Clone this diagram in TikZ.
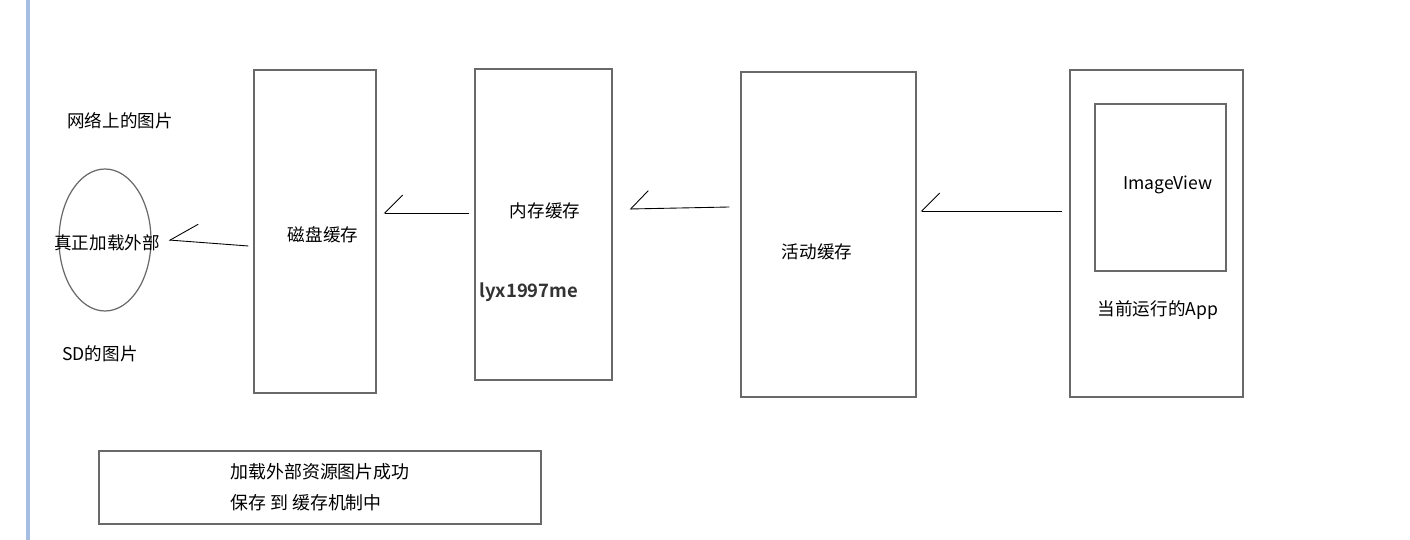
\documentclass[tikz,border=0pt]{standalone}
\usepackage{fontspec}
\setmainfont{Noto Sans CJK SC}[BoldFont={Noto Sans CJK SC Bold}]
\usetikzlibrary{arrows.meta,shapes.geometric}
\definecolor{framegray}{RGB}{105,105,105}
\definecolor{winblue}{RGB}{165,190,225}
\tikzset{
  box/.style={draw=framegray,line width=0.7pt,inner sep=0pt},
  lbl/.style={font=\fontsize{10}{12}\selectfont,inner sep=0pt},
  back/.style={line width=0.5pt,
    -{Straight Barb[harpoon,swap,length=0.36cm,width=0.72cm,line width=0.5pt]}},
}
\begin{document}
\begin{tikzpicture}[x=0.02cm,y=-0.02cm]
        \useasboundingbox (0,0) rectangle (1410,540);
        \fill[winblue] (26,0) rectangle (30,540);

        % boxes
        \node[draw=framegray,line width=0.7pt,ellipse,minimum width=1.84cm,minimum height=2.84cm] (web) at (105,240) {};
        \node[box,minimum width=2.44cm,minimum height=6.46cm] (disk) at (315,231.5) {};
        \node[box,minimum width=2.74cm,minimum height=6.22cm] (mem) at (543.5,224.5) {};
        \node[box,minimum width=3.5cm,minimum height=6.5cm] (active) at (828.5,234.5) {};
        \node[box,minimum width=3.46cm,minimum height=6.54cm] (app) at (1156.5,233.5) {};
        \node[box,minimum width=2.62cm,minimum height=3.34cm] (view) at (1160.5,187.5) {};
        \node[box,minimum width=8.84cm,minimum height=1.46cm,align=left,
              font=\fontsize{10.2}{17.8}\selectfont] (note) at (320,487.5)
              {加载外部资源图片成功\\保存 到 缓存机制中};

        % labels
        \node[lbl] (netlbl) at (120,121) {网络上的图片};
        \node[lbl] (weblbl) at (107,243) {真正加载外部};
        \node[lbl] (sdlbl) at (100,354) {SD的图片};
        \node[lbl] (disklbl) at (323,235) {磁盘缓存};
        \node[lbl] (memlbl) at (545,211) {内存缓存};
        \node[lbl,font=\fontsize{10.5}{12}\bfseries,text=black!80] (mark) at (529,292) {lyx1997me};
        \node[lbl] (activelbl) at (817,252) {活动缓存};
        \node[lbl] (viewlbl) at (1168,185) {ImageView};
        \node[lbl] (applbl) at (1158,310) {当前运行的App};

        % connectors
        \draw[back,-{Straight Barb[harpoon,swap,length=0.54cm,width=0.72cm,line width=0.5pt]}]
            ([shift={(-5,14.5)}]disk.west) -- ([xshift=0.34cm]web.east);
        \draw[back] ([shift={(-5,-11.5)}]mem.west) -- ([shift={(7,-18.5)}]disk.east);
        \draw[back] ([shift={(-11,-27.5)}]active.west) -- ([shift={(17,-15.5)}]mem.east);
        \draw[back] ([shift={(-7,-22.5)}]app.west) -- ([shift={(4,-23.5)}]active.east);
    \end{tikzpicture}
\end{document}
